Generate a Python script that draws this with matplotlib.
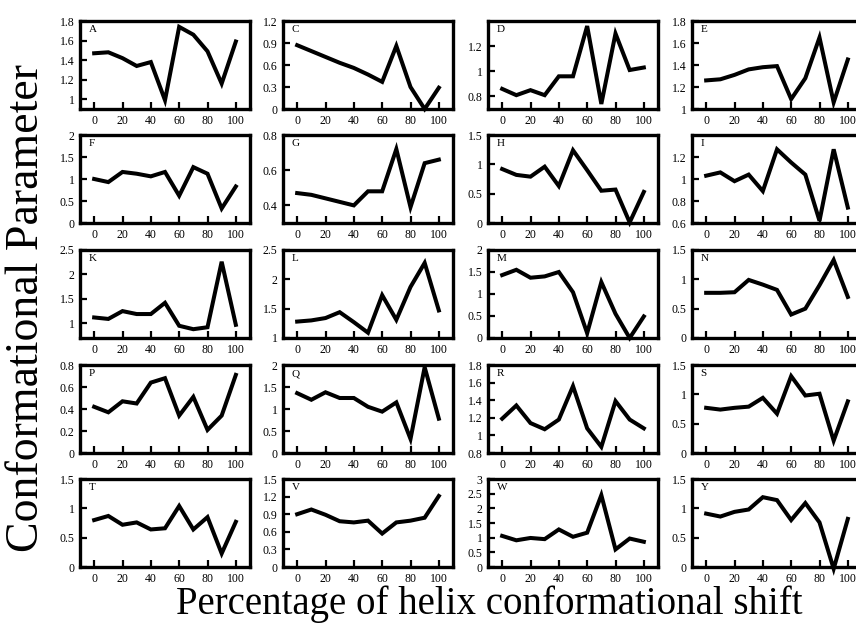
import matplotlib
matplotlib.use("Agg")
import matplotlib.pyplot as plt
from matplotlib.ticker import FuncFormatter

plt.rcParams['font.family'] = ['Liberation Serif', 'DejaVu Serif']

x_shift = [0, 10, 20, 30, 40, 50, 60, 70, 80, 90, 100]
x_ticks = [0, 20, 40, 60, 80, 100]

panel_names = ['A', 'C', 'D', 'E', 'F', 'G', 'H', 'I', 'K', 'L',
               'M', 'N', 'P', 'Q', 'R', 'S', 'T', 'V', 'W', 'Y']

vals_A = [1.47, 1.48, 1.42, 1.34, 1.38, 0.99, 1.74, 1.66, 1.49, 1.16, 1.59]
vals_C = [0.87, 0.79, 0.71, 0.63, 0.56, 0.47, 0.37, 0.86, 0.30, 0.0, 0.29]
vals_D = [0.86, 0.81, 0.85, 0.81, 0.96, 0.96, 1.36, 0.74, 1.30, 1.01, 1.03]
vals_E = [1.26, 1.27, 1.31, 1.36, 1.38, 1.39, 1.09, 1.28, 1.65, 1.06, 1.45]
vals_F = [1.00, 0.93, 1.16, 1.12, 1.06, 1.16, 0.62, 1.27, 1.12, 0.33, 0.83]
vals_G = [0.47, 0.46, 0.44, 0.42, 0.40, 0.48, 0.48, 0.72, 0.39, 0.64, 0.66]
vals_H = [0.92, 0.82, 0.79, 0.96, 0.63, 1.24, 0.90, 0.55, 0.57, 0.01, 0.53]
vals_I = [1.03, 1.06, 0.98, 1.04, 0.89, 1.27, 1.15, 1.04, 0.62, 1.27, 0.74]
vals_K = [1.12, 1.09, 1.25, 1.19, 1.19, 1.42, 0.95, 0.88, 0.92, 2.26, 0.97]
vals_L = [1.28, 1.30, 1.34, 1.44, 1.27, 1.09, 1.73, 1.31, 1.87, 2.28, 1.47]
vals_M = [1.43, 1.55, 1.37, 1.40, 1.50, 1.04, 0.11, 1.27, 0.55, 0.0, 0.49]
vals_N = [0.77, 0.77, 0.78, 0.99, 0.91, 0.82, 0.40, 0.50, 0.90, 1.33, 0.70]
vals_P = [0.42, 0.37, 0.47, 0.45, 0.64, 0.68, 0.34, 0.51, 0.21, 0.34, 0.71]
vals_Q = [1.36, 1.21, 1.38, 1.25, 1.25, 1.05, 0.94, 1.15, 0.32, 1.95, 0.78]
vals_R = [1.19, 1.34, 1.14, 1.07, 1.18, 1.56, 1.08, 0.87, 1.39, 1.18, 1.08]
vals_S = [0.77, 0.74, 0.77, 0.79, 0.94, 0.67, 1.31, 0.98, 1.01, 0.21, 0.88]
vals_T = [0.80, 0.87, 0.72, 0.76, 0.64, 0.66, 1.04, 0.64, 0.85, 0.23, 0.77]
vals_V = [0.90, 0.98, 0.89, 0.78, 0.76, 0.79, 0.57, 0.76, 0.79, 0.84, 1.21]
vals_W = [1.06, 0.91, 0.99, 0.95, 1.28, 1.03, 1.17, 2.45, 0.60, 0.97, 0.86]
vals_Y = [0.91, 0.86, 0.94, 0.98, 1.19, 1.14, 0.80, 1.09, 0.76, -0.03, 0.82]

all_vals = [vals_A, vals_C, vals_D, vals_E, vals_F, vals_G, vals_H, vals_I,
            vals_K, vals_L, vals_M, vals_N, vals_P, vals_Q, vals_R, vals_S,
            vals_T, vals_V, vals_W, vals_Y]

y_limits = [(0.9, 1.8), (0, 1.2), (0.7, 1.4), (1, 1.8), (0, 2), (0.3, 0.8),
            (0, 1.5), (0.6, 1.4), (0.7, 2.5), (1, 2.5), (0, 2), (0, 1.5),
            (0, 0.8), (0, 2), (0.8, 1.8), (0, 1.5), (0, 1.5), (0, 1.5),
            (0, 3), (0, 1.5)]
y_tick_sets = [[1, 1.2, 1.4, 1.6, 1.8], [0, 0.3, 0.6, 0.9, 1.2], [0.8, 1, 1.2],
               [1, 1.2, 1.4, 1.6, 1.8], [0, 0.5, 1, 1.5, 2], [0.4, 0.6, 0.8],
               [0, 0.5, 1, 1.5], [0.6, 0.8, 1, 1.2], [1, 1.5, 2, 2.5],
               [1, 1.5, 2, 2.5], [0, 0.5, 1, 1.5, 2], [0, 0.5, 1, 1.5],
               [0, 0.2, 0.4, 0.6, 0.8], [0, 0.5, 1, 1.5, 2],
               [0.8, 1, 1.2, 1.4, 1.6, 1.8], [0, 0.5, 1, 1.5], [0, 0.5, 1, 1.5],
               [0, 0.3, 0.6, 0.9, 1.2, 1.5], [0, 0.5, 1, 1.5, 2, 2.5, 3],
               [0, 0.5, 1, 1.5]]

W, H = 856, 632
fig = plt.figure(figsize=(W / 100, H / 100), dpi=100)

col_left = [80, 283, 488, 692]
row_top = [21, 135, 250, 365, 479]
ax_w, ax_h = 170, 88

fmt = FuncFormatter(lambda v, p: ('%g' % round(v, 3)))

for i, name in enumerate(panel_names):
    r, c = divmod(i, 4)
    left = col_left[c] / W
    bottom = 1 - (row_top[r] + ax_h) / H
    ax = fig.add_axes([left, bottom, ax_w / W, ax_h / H])
    ax.plot(x_shift, all_vals[i], color='black', lw=2.9, clip_on=False,
            solid_joinstyle='miter')
    ax.set_xlim(-10, 110)
    ax.set_ylim(*y_limits[i])
    ax.set_xticks(x_ticks)
    ax.set_yticks(y_tick_sets[i])
    ax.yaxis.set_major_formatter(fmt)
    ax.tick_params(direction='in', length=5, width=1.6, labelsize=8.5,
                   pad=4, top=False, right=False)
    for sp in ax.spines.values():
        sp.set_linewidth(2.4)
    ax.text(0.05, 0.95, name, transform=ax.transAxes, ha='left', va='top',
            fontsize=8)

fig.text(27 / W, 1 - 308 / H, 'Conformational Parameter', rotation=90,
         ha='center', va='center', fontsize=33)
fig.text(489 / W, 1 - 604 / H, 'Percentage of helix conformational shift',
         ha='center', va='center', fontsize=28)

fig.savefig('out.png', dpi=100)
